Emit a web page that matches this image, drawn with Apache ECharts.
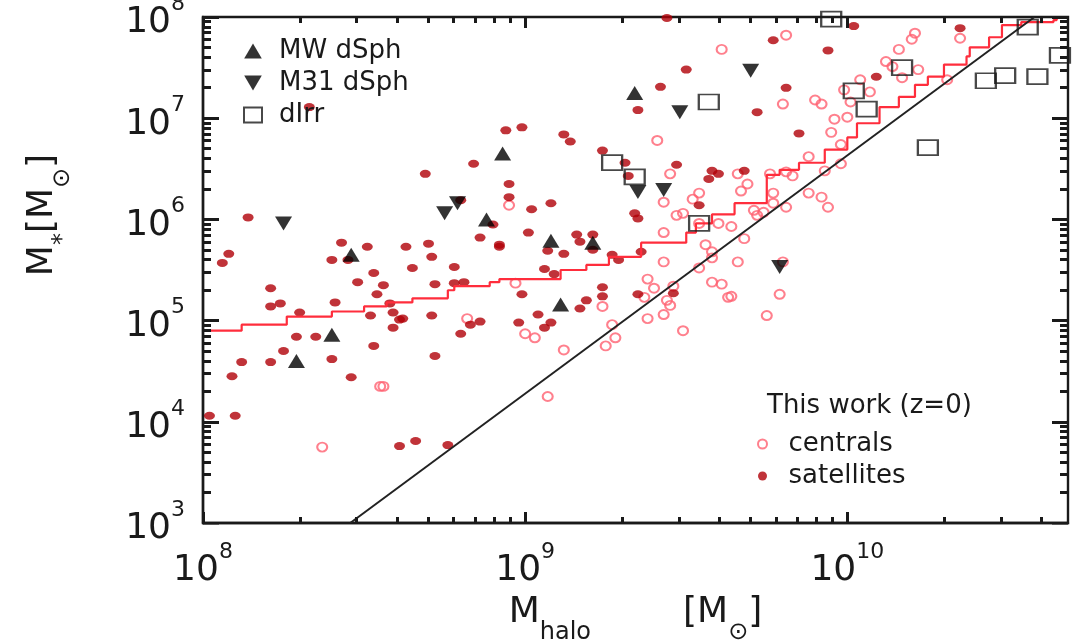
<!DOCTYPE html>
<html>
<head>
<meta charset="utf-8">
<script src="https://cdn.jsdelivr.net/npm/echarts@6/dist/echarts.min.js"></script>
<style>
  html, body { margin: 0; padding: 0; background: #fff; }
  #chart { width: 1072px; height: 644px; }
</style>
</head>
<body>
<div id="chart"></div>
<script>
// All masses are log10(M / Msun).

// Simulated satellites (filled dark red)
const satLogMhalo = [8.33, 8.69, 8.84, 8.80, 9.44, 9.77, 9.50, 9.42, 9.81, 9.35, 9.72, 8.94, 8.99, 9.85, 9.12, 9.14, 9.24, 9.31, 9.47, 9.32,
  9.57, 9.58, 9.60, 9.68, 8.95, 8.95, 9.08, 9.54, 10.02, 10.35, 9.94, 10.09, 8.14, 8.08, 8.06, 8.43, 8.40, 8.45, 8.51, 8.63,
  8.70, 8.71, 8.65, 8.53, 8.48, 8.56, 8.54, 8.21, 8.21, 8.24, 8.41, 8.30, 8.58, 8.59, 8.52, 8.61, 8.62, 8.59, 8.72, 8.78,
  8.81, 8.78, 8.86, 8.92, 8.90, 8.71, 8.29, 8.35, 8.25, 8.53, 8.12, 8.21, 8.40, 8.09, 8.46, 8.72, 8.83, 8.86, 8.80, 8.02,
  8.10, 8.61, 8.66, 8.76, 9.02, 8.92, 9.01, 9.07, 9.12, 9.16, 9.17, 9.21, 9.21, 9.34, 9.35, 9.27, 9.29, 9.36, 9.06, 9.09,
  9.46, 9.35, 9.24, 9.24, 8.99, 9.19, 9.17, 9.04, 8.98, 9.08, 9.06];
const satLogMstar = [7.11, 6.45, 6.55, 6.19, 7.99, 7.77, 7.48, 7.31, 7.30, 7.08, 7.06, 6.88, 6.91, 6.85, 6.84, 6.77, 6.68, 6.56, 6.54, 6.43,
  6.40, 6.48, 6.45, 6.48, 6.35, 6.22, 6.16, 6.14, 7.91, 7.89, 7.67, 7.41, 6.02, 5.66, 5.57, 5.77, 5.60, 5.60, 5.73, 5.73,
  5.76, 5.63, 5.52, 5.47, 5.38, 5.35, 5.26, 5.32, 5.14, 5.17, 5.18, 5.08, 5.17, 5.08, 5.05, 5.01, 5.02, 4.93, 5.36, 5.37,
  5.38, 5.53, 5.82, 5.73, 5.95, 5.05, 4.84, 4.84, 4.70, 4.75, 4.59, 4.59, 4.62, 4.45, 4.44, 4.65, 4.96, 4.99, 4.87, 4.06,
  4.06, 3.76, 3.81, 3.77, 6.10, 5.75, 5.87, 5.69, 5.66, 5.85, 5.78, 5.85, 5.70, 6.06, 6.01, 5.65, 5.60, 5.68, 5.51, 5.46,
  5.27, 5.26, 5.33, 5.24, 5.26, 5.20, 5.12, 5.06, 4.98, 4.98, 4.93];

// Simulated centrals (open pink circles)
const cenLogMhalo = [9.81, 9.61, 9.80, 9.41, 9.45, 9.66, 8.95, 9.54, 9.52, 9.43, 9.69, 9.67, 9.76, 9.77, 9.81, 9.83, 9.77, 10.21, 10.20, 10.35,
  10.16, 10.12, 10.14, 10.22, 10.17, 10.04, 10.31, 9.99, 10.07, 9.90, 9.92, 10.01, 9.96, 10.00, 9.95, 9.98, 9.88, 9.98, 9.93, 9.88,
  9.92, 9.94, 9.81, 9.47, 9.49, 9.54, 9.43, 9.60, 9.64, 9.71, 9.72, 9.74, 9.68, 9.56, 9.58, 9.58, 9.43, 9.66, 9.80, 9.54,
  8.97, 9.38, 9.58, 9.61, 9.40, 9.46, 9.37, 9.44, 9.45, 9.79, 9.63, 9.64, 9.24, 9.43, 9.38, 9.75, 9.27, 9.00, 9.03, 9.28,
  9.49, 9.25, 9.12, 9.07, 8.82, 8.55, 8.56, 8.37];
const cenLogMstar = [7.82, 7.68, 7.14, 6.78, 6.45, 6.45, 6.14, 6.26, 6.20, 6.17, 6.35, 6.28, 6.45, 6.26, 6.47, 6.43, 6.16, 7.84, 7.78, 7.79,
  7.68, 7.56, 7.51, 7.48, 7.40, 7.38, 7.38, 7.28, 7.26, 7.18, 7.14, 7.16, 6.99, 7.01, 6.86, 6.74, 6.62, 6.55, 6.48, 6.26,
  6.22, 6.12, 6.12, 6.04, 6.06, 5.96, 5.87, 5.96, 5.93, 6.09, 6.04, 6.07, 5.81, 5.75, 5.68, 5.62, 5.58, 5.58, 5.58, 5.52,
  5.37, 5.41, 5.38, 5.36, 5.32, 5.34, 5.23, 5.20, 5.15, 5.26, 5.23, 5.24, 5.14, 5.06, 5.02, 5.05, 4.96, 4.87, 4.83, 4.83,
  4.90, 4.75, 4.71, 4.25, 5.02, 4.35, 4.35, 3.75];

// Observed dwarfs
const mwLogMhalo = [9.34, 8.93, 8.88, 8.46, 9.08, 9.21, 9.11, 8.40, 8.29];
const mwLogMstar = [7.25, 6.65, 6.00, 5.65, 5.79, 5.77, 5.16, 4.86, 4.60];
const m31LogMhalo = [8.25, 8.75, 8.79, 9.48, 9.70, 9.35, 9.43, 9.79];
const m31LogMstar = [5.96, 6.06, 6.16, 7.06, 7.47, 6.27, 6.29, 5.53];
const dirrLogMhalo = [9.27, 9.34, 9.57, 9.54, 9.95, 10.02, 10.06, 10.17, 10.25, 10.43, 10.49, 10.59, 10.56, 10.66];
const dirrLogMstar = [6.56, 6.42, 7.16, 5.96, 7.98, 7.27, 7.09, 7.50, 6.71, 7.37, 7.42, 7.41, 7.90, 7.62];

// Stepped median relation (red)
const medLogMhalo = [8.00, 8.12, 8.26, 8.40, 8.50, 8.57, 8.65, 8.76, 8.78, 8.89, 8.92, 9.11, 9.19, 9.26, 9.36, 9.50, 9.53, 9.58,
  9.65, 9.75, 9.79, 9.85, 9.93, 10.00, 10.03, 10.10, 10.16, 10.21, 10.25, 10.30, 10.37, 10.38, 10.44, 10.48, 10.54, 10.64, 10.65, 10.685];
const medLogMstar = [4.90, 4.96, 5.04, 5.09, 5.14, 5.18, 5.22, 5.30, 5.34, 5.38, 5.41, 5.50, 5.55, 5.63, 5.77, 5.87, 5.96, 6.05,
  6.16, 6.44, 6.49, 6.56, 6.69, 6.81, 6.95, 7.11, 7.21, 7.33, 7.41, 7.53, 7.61, 7.70, 7.80, 7.92, 7.95, 7.97, 8.00, 8.00];

// Straight black reference relation
const refLogMhalo = [8.457, 10.581];
const refLogMstar = [3.0, 8.0];

// Axis ranges and labelled decades
const xRange = [8, 10.685];
const yRange = [3, 8];
const xDecades = [8, 9, 10];
const yDecades = [3, 4, 5, 6, 7, 8];

const FONT = 'DejaVu Sans';
const INK = '#1a1a1a';
const CHART_W = 1072, CHART_H = 644;
const GRID = { left: 203, right: 4, top: 17, bottom: 121 };

function pairs(xs, ys) { return xs.map((x, i) => [x, ys[i]]); }

// Tick marks along all four frame edges at 1..9 x 10^n, drawn inward.
// Lengths are given in pixels and turned into axis units.
const xUnitPx = (CHART_W - GRID.left - GRID.right) / (xRange[1] - xRange[0]);
const yUnitPx = (CHART_H - GRID.top - GRID.bottom) / (yRange[1] - yRange[0]);
function logPositions(range) {
  const out = [];
  for (let n = Math.floor(range[0]); n <= range[1]; n++) {
    for (let k = 1; k <= 9; k++) {
      const v = n + Math.log10(k);
      if (v >= range[0] - 1e-9 && v <= range[1] + 1e-9) out.push({ v, major: k === 1 });
    }
  }
  return out;
}
const tickSegments = [];
logPositions(xRange).forEach(({ v, major }) => {
  const dy = (major ? 11 : 6) / yUnitPx;
  tickSegments.push({ coords: [[v, yRange[0]], [v, yRange[0] + dy]] });
  tickSegments.push({ coords: [[v, yRange[1]], [v, yRange[1] - dy]] });
});
logPositions(yRange).forEach(({ v, major }) => {
  const dx = (major ? 16 : 8) / xUnitPx;
  tickSegments.push({ coords: [[xRange[0], v], [xRange[0] + dx, v]] });
  tickSegments.push({ coords: [[xRange[1], v], [xRange[1] - dx, v]] });
});

const powerLabel = v => '{b|10}{s|' + Math.round(v) + '}';
const labelRich = {
  b: { fontFamily: FONT, fontSize: 36, color: INK, lineHeight: 48, verticalAlign: 'bottom' },
  s: { fontFamily: FONT, fontSize: 22, color: INK, lineHeight: 28, verticalAlign: 'top' }
};

const xTitle = '{m|M}{sub|halo}{gap|}{m|[M}{sub2|⊙}{m|]}';
const yTitle = '{m|M}{sub|*}{m|[M}{sub2|⊙}{m|]}';
const titleRich = {
  m: { fontFamily: FONT, fontSize: 36, color: INK, lineHeight: 50, verticalAlign: 'top' },
  sub: { fontFamily: FONT, fontSize: 24, color: INK, lineHeight: 26, verticalAlign: 'bottom' },
  sub2: { fontFamily: FONT, fontSize: 24, color: INK, lineHeight: 27, verticalAlign: 'bottom' },
  gap: { width: 92 }
};

const chart = echarts.init(document.getElementById('chart'), null, { renderer: 'canvas' });

const upTri = 'path://M5,0 L10,8.5 L0,8.5 Z';
const downTri = 'path://M0,0 L10,0 L5,8.5 Z';
const legendText = { fontFamily: FONT, fontSize: 26, color: INK };

chart.setOption({
  animation: false,
  backgroundColor: '#ffffff',
  grid: Object.assign({
    containLabel: false, outerBoundsMode: 'none',
    show: true, borderColor: INK, borderWidth: 2.4, backgroundColor: 'transparent'
  }, GRID),
  title: {
    text: 'This work (z=0)', left: 762, top: 388,
    textStyle: Object.assign({ fontWeight: 'normal' }, legendText)
  },
  legend: [
    {
      orient: 'vertical', left: 238, top: 33, itemGap: 6, itemWidth: 18, itemHeight: 15,
      data: [
        { name: 'MW dSph', icon: upTri },
        { name: 'M31 dSph', icon: downTri },
        { name: 'dIrr', icon: 'rect', itemStyle: { color: 'rgba(0,0,0,0)', borderColor: INK, borderWidth: 2 } }
      ],
      textStyle: Object.assign({ padding: [0, 0, 0, 12] }, legendText)
    },
    {
      orient: 'vertical', left: 752, top: 426, itemGap: 6, itemWidth: 10, itemHeight: 9,
      data: [
        { name: 'centrals', icon: 'circle', itemStyle: { color: 'rgba(0,0,0,0)', borderColor: '#ff6070', borderWidth: 2 } },
        { name: 'satellites', icon: 'circle' }
      ],
      textStyle: Object.assign({ padding: [0, 0, 0, 16] }, legendText)
    }
  ],
  xAxis: {
    type: 'value', position: 'bottom', min: xRange[0], max: xRange[1],
    axisLine: { show: true, lineStyle: { color: INK, width: 2.4 } },
    axisTick: { show: false },
    axisLabel: { show: true, customValues: xDecades, margin: 18, formatter: powerLabel, rich: labelRich },
    splitLine: { show: false },
    name: xTitle, nameLocation: 'middle', nameGap: 72, nameTextStyle: { rich: titleRich }
  },
  yAxis: {
    type: 'value', position: 'left', min: yRange[0], max: yRange[1],
    axisLine: { show: true, lineStyle: { color: INK, width: 2.4 } },
    axisTick: { show: false },
    axisLabel: { show: true, customValues: yDecades, margin: 18, formatter: powerLabel, rich: labelRich },
    splitLine: { show: false },
    name: yTitle, nameLocation: 'middle', nameRotate: 90, nameGap: 128,
    nameTextStyle: { rich: titleRich, padding: [0, 0, 0, 110] }
  },
  series: [
    {
      name: 'frame ticks', type: 'lines', coordinateSystem: 'cartesian2d', polyline: false,
      data: tickSegments, silent: true, z: 10,
      lineStyle: { color: INK, width: 3, opacity: 1, curveness: 0 },
      effect: { show: false }
    },
    {
      name: 'centrals', type: 'scatter', symbol: 'circle', symbolSize: [10, 9],
      itemStyle: { color: 'rgba(0,0,0,0)', borderColor: '#ff6070', borderWidth: 2 },
      data: pairs(cenLogMhalo, cenLogMstar), z: 2
    },
    {
      name: 'satellites', type: 'scatter', symbol: 'circle', symbolSize: [11, 8],
      itemStyle: { color: '#b00008' },
      data: pairs(satLogMhalo, satLogMstar), z: 3
    },
    {
      name: 'median', type: 'line', step: 'end', showSymbol: false, symbol: 'none',
      lineStyle: { color: '#ff2d3c', width: 2.2 }, data: pairs(medLogMhalo, medLogMstar), z: 4, silent: true
    },
    {
      name: 'relation', type: 'line', showSymbol: false, symbol: 'none',
      lineStyle: { color: '#222', width: 2 }, data: pairs(refLogMhalo, refLogMstar), z: 4, silent: true
    },
    {
      name: 'MW dSph', type: 'scatter', symbol: upTri, symbolSize: [17, 14],
      itemStyle: { color: '#000' }, data: pairs(mwLogMhalo, mwLogMstar), z: 5
    },
    {
      name: 'M31 dSph', type: 'scatter', symbol: downTri, symbolSize: [17, 14],
      itemStyle: { color: '#000' }, data: pairs(m31LogMhalo, m31LogMstar), z: 5
    },
    {
      name: 'dIrr', type: 'scatter', symbol: 'rect', symbolSize: [20, 15],
      itemStyle: { color: 'rgba(0,0,0,0)', borderColor: INK, borderWidth: 2 },
      data: pairs(dirrLogMhalo, dirrLogMstar), z: 5
    }
  ]
});
</script>
</body>
</html>
